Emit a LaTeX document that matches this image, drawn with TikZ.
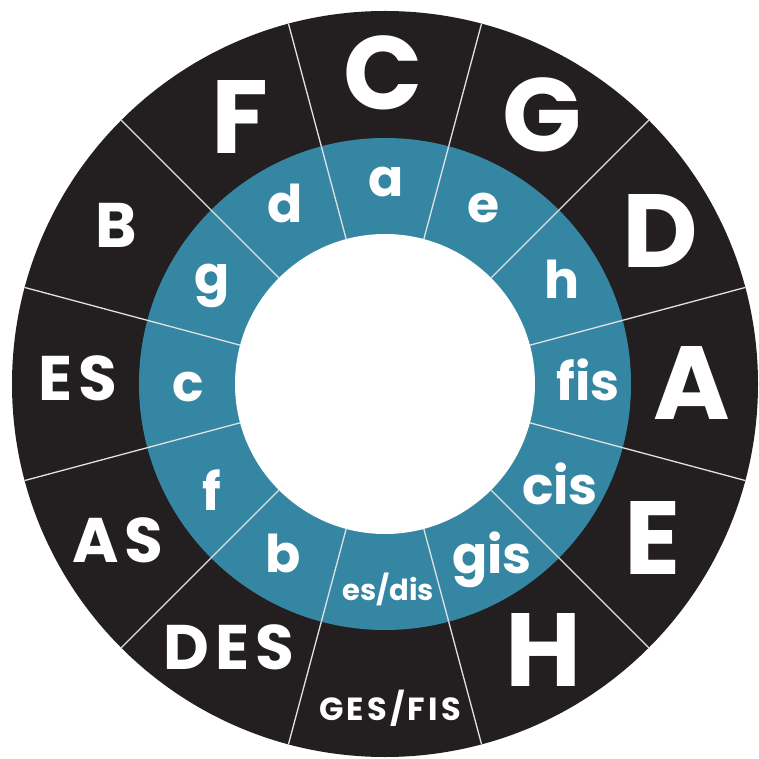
\documentclass[tikz,border=0pt]{standalone}
\usepackage{fontspec}
\usetikzlibrary{calc}
\setmainfont{Poppins}
\newfontfamily\widefont[LetterSpace=10]{Poppins}
\definecolor{ringblack}{RGB}{35,31,32}
\definecolor{ringteal}{RGB}{52,134,163}
\definecolor{divider}{RGB}{225,225,225}
\tikzset{
  big/.style={text=white,inner sep=0pt,font=\fontsize{104}{104}\selectfont\bfseries},
  mid/.style={text=white,inner sep=0pt,font=\widefont\fontsize{63}{63}\selectfont\bfseries},
  tiny/.style={text=white,inner sep=0pt,font=\widefont\fontsize{32}{32}\selectfont\bfseries},
  minor/.style={text=white,inner sep=0pt,font=\fontsize{52}{52}\selectfont\bfseries},
  minorsmall/.style={text=white,inner sep=0pt,font=\fontsize{29}{29}\selectfont\bfseries},
  divline/.style={draw=divider,line width=1.3pt}
}
\begin{document}
\begin{tikzpicture}[x=1pt,y=1pt]
\useasboundingbox (-385,-375) rectangle (373,384);
\coordinate (O) at (0,0);
\fill[ringblack] (O) circle[radius=373pt];
\fill[ringteal] (O) circle[radius=246pt];
\fill[white] (O) circle[radius=150pt];
\foreach \a in {15,45,...,345}{
  \draw[divline] ($(O)+(\a:246pt)$) -- ($(O)+(\a:373pt)$);
  \draw[divline] ($(O)+(\a:150pt)$) -- ($(O)+(\a:246pt)$);
}
% major keys
\node[big] (C) at (-2,311) {C};
\node[big] (G) at (157,269) {G};
\node[big] (D) at (275,153) {D};
\node[big] (A) at (307,1) {A};
\node[big] (E) at (268,-154) {E};
\node[big] (H) at (159,-266) {H};
\node[tiny] (GESFIS) at (5,-324) {GES/FIS};
\node[mid] (DES) at (-156,-263) {DES};
\node[mid] (AS) at (-267,-156) {AS};
\node[mid] (ES) at (-307,6) {ES};
\node[mid] (B) at (-269,159) {B};
\node[big] (F) at (-145,267) {F};
% minor keys
\node[minor] (a) at (1,202) {a};
\node[minor] (e) at (99,176) {e};
\node[minor] (h) at (177,105) {h};
\node[minor] (fis) at (203,4) {fis};
\node[minor] (cis) at (175,-100) {cis};
\node[minor] (gis) at (107,-176) {gis};
\node[minorsmall] (esdis) at (3,-205) {es/dis};
\node[minor] (b) at (-102,-169) {b};
\node[minor] (f) at (-173,-106) {f};
\node[minor] (c) at (-197,-3) {c};
\node[minor] (g) at (-173,98) {g};
\node[minor] (d) at (-100,181) {d};
\end{tikzpicture}
\end{document}
